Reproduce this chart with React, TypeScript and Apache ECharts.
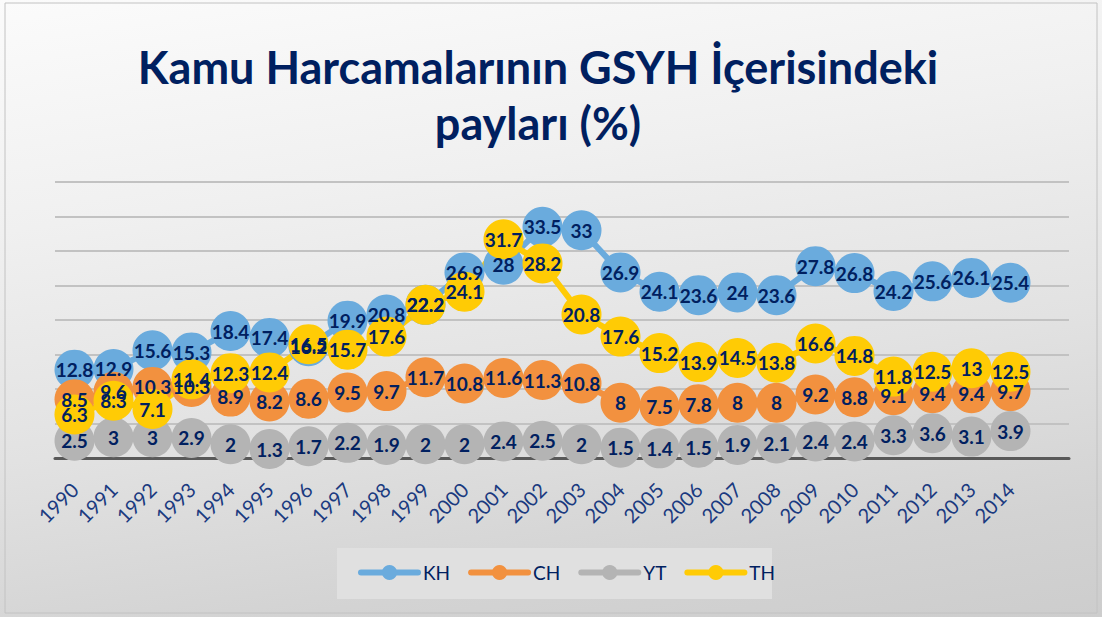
import React, { useEffect, useRef } from 'react';
import * as echarts from 'echarts';

const years = ['1990', '1991', '1992', '1993', '1994', '1995', '1996', '1997', '1998', '1999', '2000', '2001', '2002', '2003', '2004', '2005', '2006', '2007', '2008', '2009', '2010', '2011', '2012', '2013', '2014', ''];
const kh = [12.8, 12.9, 15.6, 15.3, 18.4, 17.4, 16.2, 19.9, 20.8, 22.2, 26.9, 28, 33.5, 33, 26.9, 24.1, 23.6, 24, 23.6, 27.8, 26.8, 24.2, 25.6, 26.1, 25.4, null];
const ch = [8.5, 9.6, 10.3, 10.3, 8.9, 8.2, 8.6, 9.5, 9.7, 11.7, 10.8, 11.6, 11.3, 10.8, 8, 7.5, 7.8, 8, 8, 9.2, 8.8, 9.1, 9.4, 9.4, 9.7, null];
const yt = [2.5, 3, 3, 2.9, 2, 1.3, 1.7, 2.2, 1.9, 2, 2, 2.4, 2.5, 2, 1.5, 1.4, 1.5, 1.9, 2.1, 2.4, 2.4, 3.3, 3.6, 3.1, 3.9, null];
const th = [6.3, 8.3, 7.1, 11.4, 12.3, 12.4, 16.5, 15.7, 17.6, 22.2, 24.1, 31.7, 28.2, 20.8, 17.6, 15.2, 13.9, 14.5, 13.8, 16.6, 14.8, 11.8, 12.5, 13, 12.5, null];
const seriesNames = ['KH', 'CH', 'YT', 'TH'];
const seriesColors = ['#6AABDD', '#F2913F', '#B4B4B4', '#FFCB05'];
const titleText = 'Kamu Harcamalarının GSYH İçerisindeki\npayları (%)';

const NAVY = '#002060';

export default function App() {
  const ref = useRef<HTMLDivElement>(null);
  useEffect(() => {
    document.body.style.margin = '0';
    if (!ref.current) return;
    const chart = echarts.init(ref.current, undefined, { renderer: 'svg' });
    const values = [kh, ch, yt, th];
    chart.setOption({
      animation: false,
      textStyle: { fontFamily: 'Lato' },
      title: {
        text: titleText,
        left: 533,
        top: 34,
        textAlign: 'center',
        textStyle: { fontSize: 45, fontWeight: 'bold', color: NAVY, lineHeight: 56, fontFamily: 'Lato' },
      },
      graphic: [
        { type: 'rect', z: -10, shape: { x: 5, y: 3, width: 1092, height: 610 }, style: { fill: 'transparent', stroke: '#c2c2c2', lineWidth: 1 } },
        { type: 'rect', z: -5, shape: { x: 337, y: 548, width: 435, height: 51 }, style: { fill: '#e0e0e0' } },
      ],
      legend: {
        data: seriesNames,
        left: 358,
        top: 563,
        padding: 0,
        itemWidth: 57,
        itemHeight: 19,
        itemGap: 18,
        lineStyle: { width: 6, cap: 'round' },
        textStyle: { fontSize: 19, color: NAVY, fontFamily: 'Lato' },
      },
      grid: { left: 55, right: 33, top: 182, bottom: 159 },
      xAxis: {
        type: 'category',
        data: years,
        boundaryGap: true,
        axisLine: { lineStyle: { color: '#595959', width: 3 } },
        axisTick: { show: false },
        axisLabel: { rotate: 45, interval: 0, fontSize: 20, color: '#1A3A80', margin: 28, fontFamily: 'Lato' },
      },
      yAxis: {
        type: 'value',
        min: 0,
        max: 40,
        interval: 5,
        axisLabel: { show: false },
        axisLine: { show: false },
        axisTick: { show: false },
        splitLine: { lineStyle: { color: '#c2c2c2', width: 2 } },
      },
      series: seriesNames.map((name, i) => ({
        name,
        type: 'line',
        data: values[i],
        symbol: 'circle',
        symbolSize: 40,
        lineStyle: { width: 6, color: seriesColors[i] },
        itemStyle: { color: seriesColors[i] },
        label: { show: true, position: 'inside', fontSize: 19, fontWeight: 'bold', color: NAVY, fontFamily: 'Lato' },
      })),
    });
    return () => chart.dispose();
  }, []);
  return (
    <div
      ref={ref}
      style={{
        width: 1102,
        height: 617,
        background: 'linear-gradient(172deg, #fbfbfb 0%, #f0f0f0 30%, #e2e2e2 60%, #d3d3d3 85%, #cdcdcd 100%)',
      }}
    />
  );
}
